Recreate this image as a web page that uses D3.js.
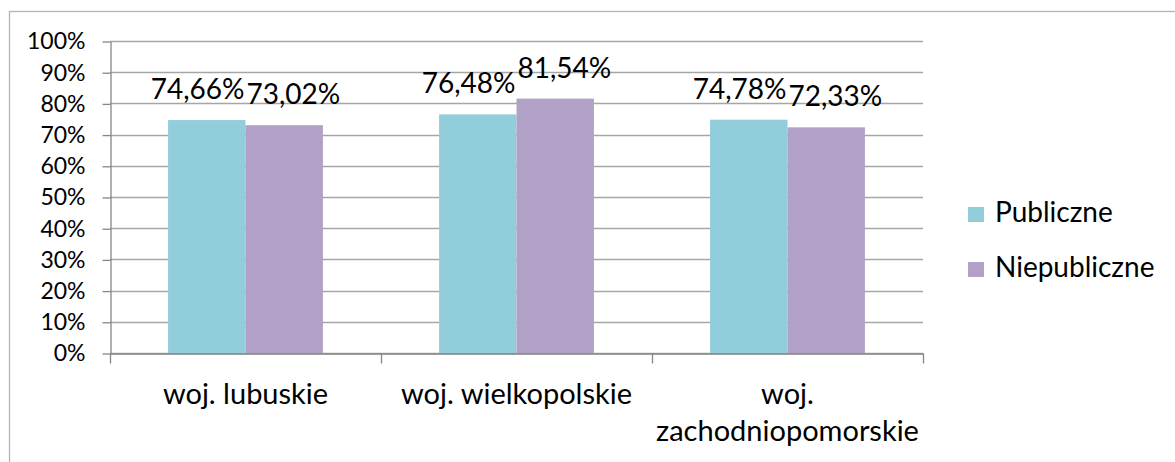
<!DOCTYPE html>
<html>
<head>
<meta charset="utf-8">
<script src="https://cdn.jsdelivr.net/npm/d3@7"></script>
<style>
  body { margin: 0; background: #fff; }
  svg { display: block; font-family: Lato, "Open Sans", sans-serif; }
</style>
</head>
<body>
<svg id="chart" width="1175" height="462"></svg>
<script>
const categories = ['woj. lubuskie', 'woj. wielkopolskie', 'woj. zachodniopomorskie']
const seriesNames = ['Publiczne', 'Niepubliczne']
const publiczne = [74.66, 76.48, 74.78]
const niepubliczne = [73.02, 81.54, 72.33]
const yTicks = [0, 10, 20, 30, 40, 50, 60, 70, 80, 90, 100]
const colors = ['#92CDDC', '#B2A1C7']

const fmt = v => v.toFixed(2).replace('.', ',') + '%'

const svg = d3.select('#chart')
const plotL = 110, plotR = 923, plotT = 41, plotB = 353

// outer chart border (right/bottom edges fall outside the picture)
svg.append('rect')
  .attr('x', 9.5).attr('y', 11.5)
  .attr('width', 1200).attr('height', 500)
  .attr('fill', 'none').attr('stroke', '#b3b3b3').attr('stroke-width', 1.3)

const y = d3.scaleLinear().domain([0, 100]).range([plotB, plotT])
const x0 = d3.scaleBand().domain(categories).range([plotL, plotR])
const x1 = d3.scaleBand().domain(seriesNames).range([0, x0.bandwidth()])
  .paddingInner(0).paddingOuter(0.75)
const color = d3.scaleOrdinal().domain(seriesNames).range(colors)

// gridlines
svg.append('g')
  .selectAll('line')
  .data(yTicks)
  .join('line')
    .attr('x1', plotL).attr('x2', plotR)
    .attr('y1', d => Math.round(y(d)) + 0.5).attr('y2', d => Math.round(y(d)) + 0.5)
    .attr('stroke', '#a6a6a6').attr('stroke-width', 1.3)

// y axis
const yAxis = svg.append('g')
  .attr('transform', `translate(${plotL + 0.5},0.5)`)
  .call(d3.axisLeft(y).tickValues(yTicks).tickSize(8).tickSizeOuter(0).tickPadding(17).tickFormat(d => d + '%'))
yAxis.select('.domain').attr('stroke', '#868686').attr('stroke-width', 1.3)
yAxis.selectAll('.tick line').attr('stroke', '#868686').attr('stroke-width', 1.3)
yAxis.selectAll('.tick text')
  .attr('font-family', 'Lato, sans-serif').attr('font-size', 23).attr('fill', '#000')

// x axis
const xAxis = svg.append('g')
  .attr('transform', `translate(0,${plotB + 0.5})`)
  .call(d3.axisBottom(x0).tickSize(0).tickFormat(''))
xAxis.select('.domain').attr('stroke', '#868686').attr('stroke-width', 1.3)
const bounds = [plotL, ...categories.map(c => x0(c) + x0.bandwidth())]
xAxis.selectAll('.cat-tick')
  .data(bounds)
  .join('line')
    .attr('class', 'cat-tick')
    .attr('x1', d => Math.round(d) + 0.5).attr('x2', d => Math.round(d) + 0.5)
    .attr('y1', 0).attr('y2', 10)
    .attr('stroke', '#868686').attr('stroke-width', 1.3)

// category labels with wrapping
const catLabels = svg.append('g')
  .selectAll('text')
  .data(categories)
  .join('text')
    .attr('x', d => x0(d) + x0.bandwidth() / 2)
    .attr('y', 404)
    .attr('text-anchor', 'middle')
    .attr('font-size', 29)
    .attr('fill', '#000')
    .text(d => d)
catLabels.each(function(d) {
  const t = d3.select(this)
  if (this.getComputedTextLength() > x0.bandwidth() - 4) {
    const words = d.split(' ')
    t.text(null)
    t.append('tspan').attr('x', x0(d) + x0.bandwidth() / 2).text(words[0])
    t.append('tspan').attr('x', x0(d) + x0.bandwidth() / 2).attr('dy', 37).text(words.slice(1).join(' '))
  }
})

// bars
const rows = categories.map((c, i) => ({ cat: c, vals: [publiczne[i], niepubliczne[i]] }))
const groups = svg.append('g')
  .selectAll('g')
  .data(rows)
  .join('g')
    .attr('transform', d => `translate(${x0(d.cat)},0)`)

groups.selectAll('rect')
  .data(d => d.vals.map((v, j) => ({ s: seriesNames[j], v })))
  .join('rect')
    .attr('x', d => x1(d.s))
    .attr('width', x1.bandwidth())
    .attr('y', d => y(d.v))
    .attr('height', d => plotB - y(d.v))
    .attr('fill', d => color(d.s))

// data labels, pushed apart when they collide
groups.each(function(row) {
  const g = d3.select(this)
  const labels = row.vals.map((v, j) => {
    const cx = x1(seriesNames[j]) + x1.bandwidth() / 2
    const t = g.append('text')
      .attr('y', y(v) - 21)
      .attr('text-anchor', 'middle')
      .attr('font-size', 28)
      .attr('fill', '#000')
      .text(fmt(v))
    return { t, cx, w: t.node().getComputedTextLength() }
  })
  const [a, b] = labels
  const overlap = (a.w + b.w) / 2 - (b.cx - a.cx)
  if (overlap > 0) {
    a.cx -= overlap / 2 + 1
    b.cx += overlap / 2 + 1
  }
  labels.forEach(l => l.t.attr('x', l.cx))
})

// legend
const legend = svg.append('g')
  .selectAll('g')
  .data(seriesNames)
  .join('g')
    .attr('transform', (d, i) => `translate(968,${207 + i * 55})`)
legend.append('rect')
  .attr('width', 16).attr('height', 15)
  .attr('fill', d => color(d))
legend.append('text')
  .attr('x', 27).attr('y', 15)
  .attr('font-size', 28)
  .attr('fill', '#000')
  .text(d => d)
</script>
</body>
</html>
